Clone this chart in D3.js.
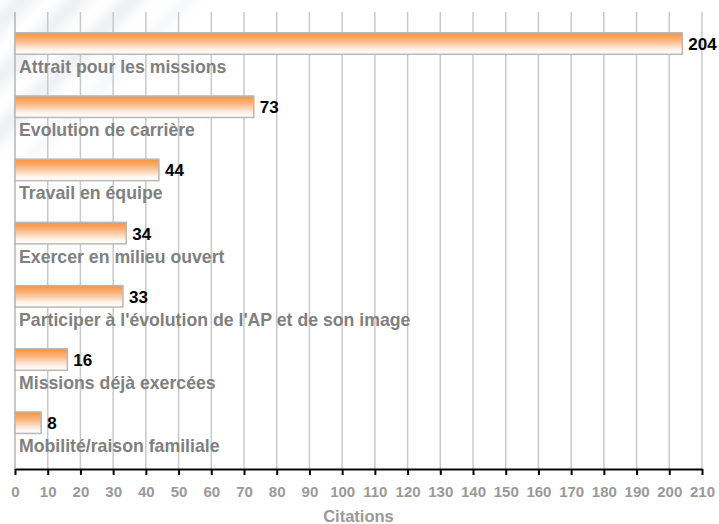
<!DOCTYPE html>
<html>
<head>
<meta charset="utf-8">
<script src="https://cdn.jsdelivr.net/npm/d3@7"></script>
<style>
  html, body { margin: 0; padding: 0; background: #fff; }
  svg { display: block; }
</style>
</head>
<body>
<svg id="chart" width="719" height="524"></svg>
<script>
const categories = [
  "Attrait pour les missions",
  "Evolution de carrière",
  "Travail en équipe",
  "Exercer en milieu ouvert",
  "Participer à l'évolution de l'AP et de son image",
  "Missions déjà exercées",
  "Mobilité/raison familiale"
];
const values = [204, 73, 44, 34, 33, 16, 8];
const tickValues = [0,10,20,30,40,50,60,70,80,90,100,110,120,130,140,150,160,170,180,190,200,210];
const axisTitle = "Citations";

const svg = d3.select("#chart");
const font = "'Liberation Sans', Arial, Helvetica, sans-serif";

const defs = svg.append("defs");
defs.append("filter").attr("id", "blur")
  .attr("x", "-50%").attr("y", "-50%").attr("width", "200%").attr("height", "200%")
  .append("feGaussianBlur").attr("stdDeviation", 6);

// background decoration (faint blurred diagonal bands, top-left)
const bg = svg.append("g").attr("filter", "url(#blur)");
const stripes = [
  [[-20,30],[30,-20],[55,-20],[-20,55]],
  [[-20,85],[85,-20],[110,-20],[-20,110]],
  [[-20,140],[140,-20],[165,-20],[-20,165]],
  [[20,160],[200,-20],[215,-20],[35,160]]
];
stripes.forEach((p,i) => {
  bg.append("polygon")
    .attr("points", p.map(d => d.join(",")).join(" "))
    .attr("fill", "#e9ebf1")
    .attr("opacity", i === 3 ? 0.5 : 0.8);
});

const grad = defs.append("linearGradient")
  .attr("id", "barGrad").attr("x1", 0).attr("y1", 0).attr("x2", 0).attr("y2", 1);
grad.append("stop").attr("offset", "0%").attr("stop-color", "#f7913a");
grad.append("stop").attr("offset", "35%").attr("stop-color", "#fab47e");
grad.append("stop").attr("offset", "80%").attr("stop-color", "#fff4ec");
grad.append("stop").attr("offset", "100%").attr("stop-color", "#ffffff");

const x = d3.scaleLinear().domain([0, 210]).range([15, 702]);
const y = d3.scaleBand().domain(categories).range([32, 32 + 7 * 63.2]).padding(0);
const barH = 23;
const axisY = 469;
const gridTop = 12;

// grid lines
svg.append("g").selectAll("line")
  .data(tickValues)
  .join("line")
  .attr("x1", d => x(d)).attr("x2", d => x(d))
  .attr("y1", gridTop).attr("y2", axisY)
  .attr("stroke", d => d === 0 ? "#b4b4b4" : "#c8c8c8")
  .attr("stroke-width", 1.5);

// bars
const data = categories.map((c, i) => ({ c, v: values[i] }));
svg.append("g").selectAll("rect")
  .data(data)
  .join("rect")
  .attr("x", x(0))
  .attr("y", d => y(d.c) + 0.75)
  .attr("width", d => x(d.v) - x(0))
  .attr("height", barH - 1.5)
  .attr("fill", "url(#barGrad)")
  .attr("stroke", "#b8b8b8")
  .attr("stroke-width", 1.5);

// value labels
svg.append("g").selectAll("text")
  .data(data)
  .join("text")
  .attr("x", d => x(d.v) + 6)
  .attr("y", d => y(d.c) + 18)
  .attr("font-family", font)
  .attr("font-weight", "bold")
  .attr("font-size", "17px")
  .attr("fill", "#000")
  .text(d => d.v);

// category labels
svg.append("g").selectAll("text")
  .data(data)
  .join("text")
  .attr("x", 19)
  .attr("y", d => y(d.c) + 41)
  .attr("font-family", font)
  .attr("font-weight", "bold")
  .attr("font-size", "17.7px")
  .attr("fill", "#808080")
  .text(d => d.c);

// axis
const axis = d3.axisBottom(x).tickValues(tickValues).tickSize(6).tickPadding(11).tickSizeOuter(0);
const ag = svg.append("g").attr("transform", `translate(0,${axisY})`).call(axis);
ag.select(".domain").attr("stroke", "#000").attr("stroke-width", 2);
ag.selectAll(".tick line").attr("stroke", "#000").attr("stroke-width", 2);
ag.selectAll(".tick text")
  .attr("font-family", font)
  .attr("font-weight", "bold")
  .attr("font-size", "15px")
  .attr("fill", "#999");

svg.append("text")
  .attr("x", (x(0) + x(210)) / 2)
  .attr("y", 522)
  .attr("text-anchor", "middle")
  .attr("font-family", font)
  .attr("font-weight", "bold")
  .attr("font-size", "16.5px")
  .attr("fill", "#999")
  .text(axisTitle);
</script>
</body>
</html>
